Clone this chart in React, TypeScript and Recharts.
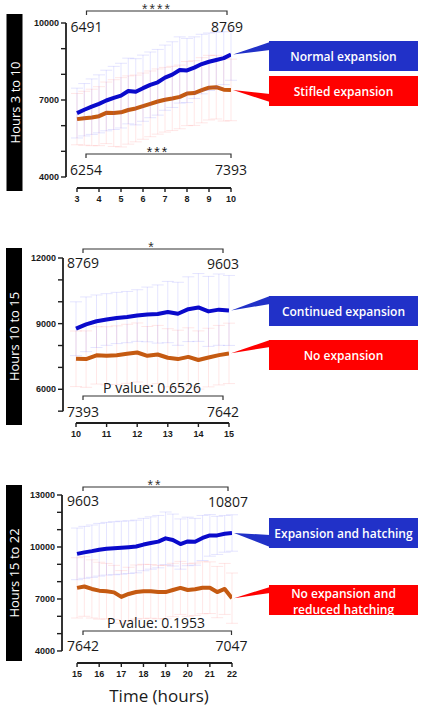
import React from 'react';
import { ComposedChart, Line, XAxis, YAxis, ErrorBar, ReferenceLine, ReferenceDot } from 'recharts';

// ---------- Data ----------
const hours1 = [3, 3.33, 3.67, 4, 4.33, 4.67, 5, 5.33, 5.67, 6, 6.33, 6.67, 7, 7.33, 7.67, 8, 8.33, 8.67, 9, 9.33, 9.67, 10];
const normal1 = [6491, 6620, 6740, 6850, 6980, 7080, 7170, 7350, 7320, 7460, 7590, 7690, 7870, 7990, 8170, 8150, 8260, 8400, 8490, 8560, 8630, 8769];
const stifled1 = [6254, 6290, 6320, 6370, 6500, 6490, 6520, 6610, 6670, 6760, 6850, 6940, 7010, 7060, 7120, 7250, 7270, 7380, 7480, 7500, 7400, 7393];
const normalSd1 = [970, 1020, 1080, 1130, 1180, 1230, 1260, 1280, 1290, 1290, 1280, 1280, 1270, 1280, 1290, 1250, 1200, 1160, 1120, 1080, 1030, 1000];
const stifledSd1 = [1000, 1050, 1100, 1150, 1200, 1300, 1350, 1330, 1300, 1290, 1280, 1270, 1260, 1250, 1240, 1250, 1260, 1270, 1260, 1240, 1220, 1200];

const hours2 = [10, 10.33, 10.67, 11, 11.33, 11.67, 12, 12.33, 12.67, 13, 13.33, 13.67, 14, 14.33, 14.67, 15];
const continued2 = [8769, 8970, 9110, 9190, 9260, 9300, 9370, 9420, 9440, 9530, 9450, 9660, 9740, 9560, 9640, 9603];
const noExp2 = [7393, 7380, 7550, 7530, 7560, 7620, 7680, 7530, 7590, 7440, 7380, 7480, 7340, 7450, 7560, 7642];
const continuedSd2 = [1230, 1250, 1200, 1180, 1170, 1170, 1180, 1250, 1330, 1400, 1440, 1480, 1550, 1600, 1630, 1600];
const noExpSd2 = [1270, 1290, 1310, 1330, 1340, 1350, 1350, 1340, 1330, 1330, 1320, 1330, 1330, 1340, 1360, 1380];

const hours3 = [15, 15.33, 15.67, 16, 16.33, 16.67, 17, 17.33, 17.67, 18, 18.33, 18.67, 19, 19.33, 19.67, 20, 20.33, 20.67, 21, 21.33, 21.67, 22];
const expHatch3 = [9603, 9690, 9760, 9840, 9900, 9930, 9960, 9990, 10030, 10140, 10230, 10310, 10500, 10400, 10170, 10320, 10300, 10520, 10670, 10670, 10760, 10807];
const noExpHatch3 = [7642, 7720, 7580, 7480, 7450, 7380, 7120, 7290, 7400, 7440, 7440, 7400, 7400, 7520, 7640, 7520, 7560, 7650, 7650, 7400, 7580, 7047];
const expHatchSd3 = [1490, 1500, 1510, 1520, 1520, 1530, 1530, 1520, 1520, 1510, 1510, 1510, 1520, 1500, 1450, 1400, 1350, 1300, 1200, 1100, 1060, 1050];
const noExpHatchSd3 = [1740, 1720, 1680, 1640, 1600, 1560, 1520, 1540, 1560, 1560, 1550, 1540, 1540, 1540, 1530, 1520, 1510, 1500, 1490, 1480, 1470, 1450];

const xTicks1 = [3, 4, 5, 6, 7, 8, 9, 10];
const xTicks2 = [10, 11, 12, 13, 14, 15];
const xTicks3 = [15, 16, 17, 18, 19, 20, 21, 22];
const yTicks1 = [4000, 5000, 6000, 7000, 8000, 9000, 10000];
const yLabels1 = [4000, 7000, 10000];
const yTicks2 = [5000, 6000, 7000, 8000, 9000, 10000, 11000, 12000];
const yLabels2 = [6000, 9000, 12000];
const yTicks3 = [4000, 5000, 6000, 7000, 8000, 9000, 10000, 11000, 12000, 13000];
const yLabels3 = [4000, 7000, 10000, 13000];

const sideLabels = ['Hours 3 to 10', 'Hours 10 to 15', 'Hours 15 to 22'];
const upperLegend = ['Normal expansion', 'Continued expansion', 'Expansion and hatching'];
const lowerLegend = [['Stifled expansion'], ['No expansion'], ['No expansion and', 'reduced hatching']];
const topStars = ['****', '*', '**'];
const bottomMarks = ['***', 'P value: 0.6526', 'P value: 0.1953'];

// ---------- Styles ----------
const BLUE = '#0a0acb';
const ORANGE = '#c55a11';
const BOX_BLUE = '#2131c8';
const BOX_RED = '#ff0000';
const AXIS = '#1e1e1e';
const tickStyle = { fill: '#1a1a1a', fontSize: 9, fontWeight: 700, fontFamily: 'Liberation Sans, Arial, sans-serif' };
const numFont = '"Open Sans", Lato, sans-serif';

type PanelCfg = {
  top: number; height: number; mt: number; mr: number; ml: number;
  hours: number[]; blue: number[]; orange: number[]; blueSd: number[]; orangeSd: number[];
  xDomain: [number, number]; xTicks: number[];
  yDomain: [number, number]; yTicks: number[]; yLabels: number[];
  blueBase: [number, number]; redBase: [number, number];
};

const panels: PanelCfg[] = [
  {
    top: 0, height: 213, mt: 23, mr: 194, ml: 21,
    hours: hours1, blue: normal1, orange: stifled1, blueSd: normalSd1, orangeSd: stifledSd1,
    xDomain: [2.5, 10], xTicks: xTicks1, yDomain: [3571, 10000], yTicks: yTicks1, yLabels: yLabels1,
    blueBase: [42, 50], redBase: [94, 102],
  },
  {
    top: 230, height: 218, mt: 28, mr: 196, ml: 18,
    hours: hours2, blue: continued2, orange: noExp2, blueSd: continuedSd2, orangeSd: noExpSd2,
    xDomain: [9.575, 15], xTicks: xTicks2, yDomain: [4459, 12000], yTicks: yTicks2, yLabels: yLabels2,
    blueBase: [66, 74], redBase: [110, 117],
  },
  {
    top: 470, height: 218, mt: 25, mr: 193, ml: 17,
    hours: hours3, blue: expHatch3, orange: noExpHatch3, blueSd: expHatchSd3, orangeSd: noExpHatchSd3,
    xDomain: [14.32, 22], xTicks: xTicks3, yDomain: [3306, 13000], yTicks: yTicks3, yLabels: yLabels3,
    blueBase: [65, 77], redBase: [117, 123],
  },
];

const pointer = (color: string, base: [number, number]) => (props: any) => {
  const { cx, cy } = props;
  if (cx == null || cy == null) return <g />;
  return <polygon points={`${cx + 2},${cy} 270,${base[0]} 270,${base[1]}`} fill={color} />;
};

function Panel({ cfg }: { cfg: PanelCfg }) {
  const data = cfg.hours.map((t, i) => ({
    t, blue: cfg.blue[i], orange: cfg.orange[i], bSd: cfg.blueSd[i], oSd: cfg.orangeSd[i],
  }));
  const n = cfg.hours.length - 1;
  const yMin = cfg.yTicks[0];
  const yMax = cfg.yTicks[cfg.yTicks.length - 1];
  return (
    <div style={{ position: 'absolute', left: 0, top: cfg.top }}>
      <ComposedChart width={425} height={cfg.height} data={data}
        margin={{ top: cfg.mt, right: cfg.mr, bottom: 5, left: cfg.ml }}>
        <XAxis dataKey="t" type="number" domain={cfg.xDomain} ticks={cfg.xTicks} allowDataOverflow
          axisLine={false} tickLine={{ stroke: AXIS, strokeWidth: 1.4 }} tickSize={4} tickMargin={4}
          height={20} tick={tickStyle} interval={0} />
        <YAxis type="number" domain={cfg.yDomain} ticks={cfg.yTicks} allowDataOverflow
          axisLine={false} tickLine={{ stroke: AXIS, strokeWidth: 1.4 }} tickSize={5} tickMargin={2}
          width={45} tick={tickStyle} interval={0}
          tickFormatter={(v: number) => (cfg.yLabels.includes(v) ? String(v) : '')} />
        <ReferenceLine ifOverflow="visible" stroke={AXIS} strokeWidth={1.8}
          segment={[{ x: cfg.xDomain[0], y: yMin }, { x: cfg.xDomain[0], y: yMax }]} />
        <ReferenceLine ifOverflow="visible" stroke={AXIS} strokeWidth={1.8}
          segment={[{ x: cfg.xTicks[0], y: cfg.yDomain[0] }, { x: cfg.xTicks[cfg.xTicks.length - 1], y: cfg.yDomain[0] }]} />
        <Line dataKey="orange" type="linear" stroke={ORANGE} strokeWidth={4} dot={false} activeDot={false}
          strokeLinejoin="round" isAnimationActive={false}>
          <ErrorBar dataKey="oSd" width={6} strokeWidth={1} stroke="rgba(255,110,110,0.17)" isAnimationActive={false} />
        </Line>
        <Line dataKey="blue" type="linear" stroke={BLUE} strokeWidth={4} dot={false} activeDot={false}
          strokeLinejoin="round" isAnimationActive={false}>
          <ErrorBar dataKey="bSd" width={6} strokeWidth={1} stroke="rgba(100,100,255,0.17)" isAnimationActive={false} />
        </Line>
        <ReferenceDot x={cfg.hours[n]} y={cfg.blue[n]} ifOverflow="visible" shape={pointer(BOX_BLUE, cfg.blueBase)} />
        <ReferenceDot x={cfg.hours[n]} y={cfg.orange[n]} ifOverflow="visible" shape={pointer(BOX_RED, cfg.redBase)} />
      </ComposedChart>
    </div>
  );
}

type Ann = {
  side: [number, number, number]; // x, y, h
  top: { y: number; x1: number; x2: number; starY: number; starX: number };
  topNumY: [number, number];
  bot: { y: number; x1: number; x2: number; markY: number; markX: number };
  botNumY: [number, number];
  blueBox: number; redBox: number; blueTextY: number; redTextY: number[];
};

const anns: Ann[] = [
  {
    side: [6.5, 14, 177],
    top: { y: 11, x1: 86.5, x2: 227, starY: 13.5, starX: 157 },
    topNumY: [32, 32],
    bot: { y: 154, x1: 86, x2: 231, markY: 157, markX: 158 },
    botNumY: [175, 175],
    blueBox: 41, redBox: 76, blueTextY: 60.5, redTextY: [95.5],
  },
  {
    side: [6, 248, 177],
    top: { y: 249, x1: 83, x2: 223, starY: 251.5, starX: 152 },
    topNumY: [268, 268.5],
    bot: { y: 396, x1: 83, x2: 223, markY: 392.5, markX: 152 },
    botNumY: [417, 416.5],
    blueBox: 296, redBox: 340, blueTextY: 315.5, redTextY: [359.5],
  },
  {
    side: [6, 485, 176],
    top: { y: 487, x1: 83, x2: 228, starY: 489.5, starX: 155 },
    topNumY: [506, 506.5],
    bot: { y: 631, x1: 83, x2: 231.5, markY: 628, markX: 156 },
    botNumY: [651, 650.5],
    blueBox: 518, redBox: 585, blueTextY: 537.5, redTextY: [598, 613.5],
  },
];

function Overlay() {
  return (
    <svg width={425} height={719} style={{ position: 'absolute', left: 0, top: 0, pointerEvents: 'none' }}>
      {anns.map((a, i) => {
        const cfg = panels[i];
        const n = cfg.hours.length - 1;
        const cx = a.side[0] + 8;
        const cy = a.side[1] + a.side[2] / 2;
        const isStar = i === 0;
        return (
          <g key={i}>
            <rect x={a.side[0]} y={a.side[1]} width={16} height={a.side[2]} fill="#000" />
            <text x={cx} y={cy} transform={`rotate(-90 ${cx} ${cy})`} textAnchor="middle" dominantBaseline="central"
              fill="#fff" fontSize={13} fontFamily={numFont}>{sideLabels[i]}</text>

            <path d={`M${a.top.x1} ${a.top.y + 4} V${a.top.y} H${a.top.x2} V${a.top.y + 4}`} fill="none" stroke="#333" strokeWidth={1.2} />
            <text x={a.top.starX} y={a.top.starY} textAnchor="middle" fontSize={14} letterSpacing={2}
              fontFamily="Liberation Sans, Arial, sans-serif" fill="#333">{topStars[i]}</text>
            <text x={a.top.x1} y={a.topNumY[0]} textAnchor="middle" fontSize={14} fontFamily={numFont} fill="#1a1a1a">{cfg.blue[0]}</text>
            <text x={a.top.x2} y={a.topNumY[1]} textAnchor="middle" fontSize={14} fontFamily={numFont} fill="#1a1a1a">{cfg.blue[n]}</text>

            <path d={`M${a.bot.x1} ${a.bot.y + 4} V${a.bot.y} H${a.bot.x2} V${a.bot.y + 4}`} fill="none" stroke="#333" strokeWidth={1.2} />
            <text x={a.bot.markX} y={a.bot.markY} textAnchor="middle" fontSize={14}
              letterSpacing={isStar ? 2 : 0}
              fontFamily={isStar ? 'Liberation Sans, Arial, sans-serif' : numFont} fill="#1a1a1a">{bottomMarks[i]}</text>
            <text x={a.bot.x1} y={a.botNumY[0]} textAnchor="middle" fontSize={14} fontFamily={numFont} fill="#1a1a1a">{cfg.orange[0]}</text>
            <text x={a.bot.x2} y={a.botNumY[1]} textAnchor="middle" fontSize={14} fontFamily={numFont} fill="#1a1a1a">{cfg.orange[n]}</text>

            <rect x={269} y={a.blueBox} width={149} height={30} fill={BOX_BLUE} />
            <text x={343.5} y={a.blueTextY} textAnchor="middle" fontSize={12} fontWeight={600}
              fontFamily='"Open Sans", sans-serif' fill="#fff">{upperLegend[i]}</text>
            <rect x={269} y={a.redBox} width={149} height={30} fill={BOX_RED} />
            {lowerLegend[i].map((line, k) => (
              <text key={k} x={343.5} y={a.redTextY[k]} textAnchor="middle" fontSize={12} fontWeight={600}
                fontFamily='"Open Sans", sans-serif' fill="#fff">{line}</text>
            ))}
          </g>
        );
      })}
      <text x={159} y={702} textAnchor="middle" fontSize={17} fontFamily={numFont} fill="#1a1a1a">Time (hours)</text>
    </svg>
  );
}

export default function App() {
  return (
    <div style={{ position: 'absolute', left: 0, top: 0, width: 425, height: 719, background: '#fff' }}>
      {panels.map((p, i) => <Panel key={i} cfg={p} />)}
      <Overlay />
    </div>
  );
}
